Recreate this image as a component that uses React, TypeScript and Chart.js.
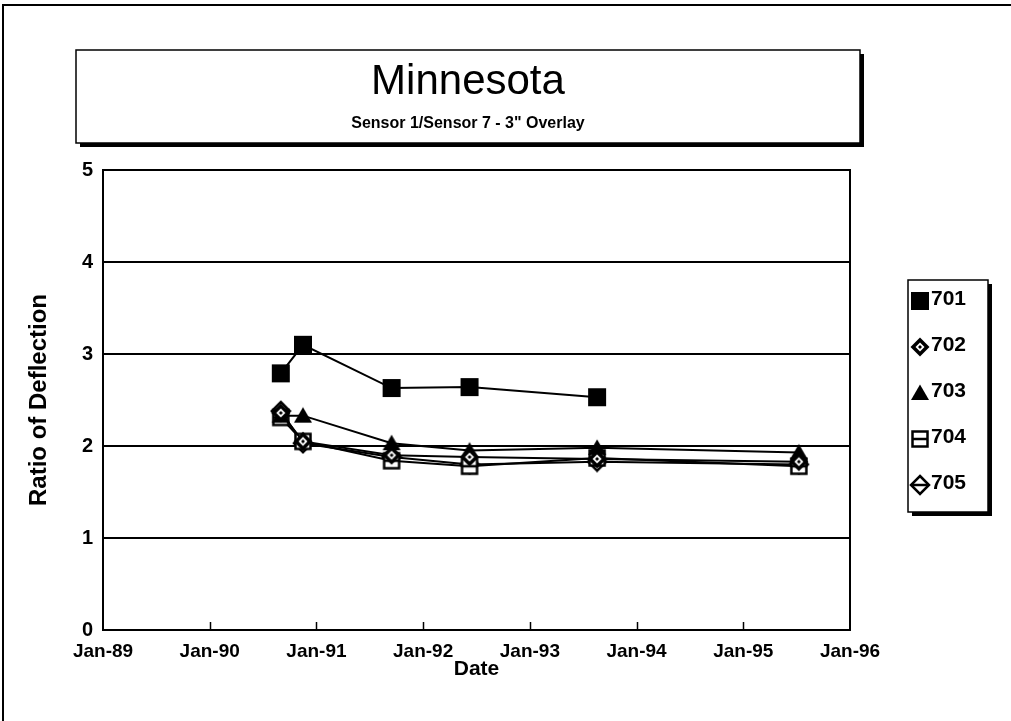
import React, { useEffect, useRef } from 'react';
import { Chart, registerables } from 'chart.js';

Chart.register(...registerables);

const TITLE = 'Minnesota';
const SUBTITLE = 'Sensor 1/Sensor 7 - 3" Overlay';
const X_LABEL = 'Date';
const Y_LABEL = 'Ratio of Deflection';

const X_TICK_YEARS = [1989, 1990, 1991, 1992, 1993, 1994, 1995, 1996];
const X_TICK_LABELS = ['Jan-89', 'Jan-90', 'Jan-91', 'Jan-92', 'Jan-93', 'Jan-94', 'Jan-95', 'Jan-96'];
const Y_MIN = 0;
const Y_MAX = 5;

const SERIES_NAMES = ['701', '702', '703', '704', '705'];
const DATES_701 = ['1990-09-01', '1990-11-16', '1991-09-15', '1992-06-08', '1993-08-19'];
const DATES_OTHERS = ['1990-09-01', '1990-11-16', '1991-09-15', '1992-06-08', '1993-08-19', '1995-07-10'];

const VALUES_701 = [2.79, 3.1, 2.63, 2.64, 2.53];
const VALUES_702 = [2.36, 2.05, 1.9, 1.88, 1.86, 1.83];
const VALUES_703 = [2.33, 2.33, 2.03, 1.95, 1.98, 1.93];
const VALUES_704 = [2.31, 2.05, 1.84, 1.78, 1.87, 1.78];
const VALUES_705 = [2.38, 2.03, 1.88, 1.8, 1.83, 1.8];

const MARKER_KINDS = ['square', 'diamondFilled', 'triangle', 'squareLine', 'diamondLine'];

const FONT = '"Liberation Sans", Arial, Helvetica, sans-serif';

function toYear(d: string): number {
  const dt = new Date(d + 'T00:00:00Z');
  const y = dt.getUTCFullYear();
  const start = Date.UTC(y, 0, 1);
  const end = Date.UTC(y + 1, 0, 1);
  return y + (dt.getTime() - start) / (end - start);
}

function diamondPath(g: CanvasRenderingContext2D, m: number, r: number) {
  g.beginPath();
  g.moveTo(m, m - r);
  g.lineTo(m + r, m);
  g.lineTo(m, m + r);
  g.lineTo(m - r, m);
  g.closePath();
}

function makeMarker(kind: string): HTMLCanvasElement {
  const s = 22;
  const c = document.createElement('canvas');
  c.width = s;
  c.height = s;
  const g = c.getContext('2d') as CanvasRenderingContext2D;
  const m = s / 2;
  g.fillStyle = '#000';
  g.strokeStyle = '#000';
  g.lineWidth = 2.5;
  if (kind === 'square') {
    g.fillRect(m - 9, m - 9, 18, 18);
  } else if (kind === 'diamondFilled') {
    diamondPath(g, m, 9.5);
    g.fill();
    g.fillStyle = '#fff';
    diamondPath(g, m, 4.5);
    g.fill();
    g.fillStyle = '#000';
    diamondPath(g, m, 2);
    g.fill();
  } else if (kind === 'triangle') {
    g.beginPath();
    g.moveTo(m, m - 8.5);
    g.lineTo(m + 9, m + 7);
    g.lineTo(m - 9, m + 7);
    g.closePath();
    g.fill();
  } else if (kind === 'squareLine') {
    g.fillStyle = '#fff';
    g.fillRect(m - 7.5, m - 7.5, 15, 15);
    g.strokeRect(m - 7.5, m - 7.5, 15, 15);
    g.beginPath();
    g.moveTo(m - 7.5, m);
    g.lineTo(m + 7.5, m);
    g.stroke();
  } else {
    g.fillStyle = '#fff';
    diamondPath(g, m, 9);
    g.fill();
    g.stroke();
    g.beginPath();
    g.moveTo(m - 9, m);
    g.lineTo(m + 9, m);
    g.stroke();
  }
  return c;
}

export default function App() {
  const canvasRef = useRef<HTMLCanvasElement | null>(null);

  useEffect(() => {
    const canvas = canvasRef.current;
    if (!canvas) return;
    const markers = MARKER_KINDS.map(makeMarker);

    const seriesValues = [VALUES_701, VALUES_702, VALUES_703, VALUES_704, VALUES_705];
    const seriesDates = [DATES_701, DATES_OTHERS, DATES_OTHERS, DATES_OTHERS, DATES_OTHERS];

    const datasets = SERIES_NAMES.map((name, i) => ({
      label: name,
      data: seriesValues[i].map((v, j) => ({ x: toYear(seriesDates[i][j]), y: v })),
      borderColor: '#000',
      backgroundColor: '#000',
      borderWidth: 2,
      pointStyle: markers[i],
      pointRadius: 9,
      tension: 0,
    }));

    const framePlugin = {
      id: 'frame',
      beforeDraw(chart: any) {
        const ctx = chart.ctx as CanvasRenderingContext2D;
        ctx.save();
        ctx.fillStyle = '#fff';
        ctx.fillRect(0, 0, chart.width, chart.height);
        ctx.strokeStyle = '#000';
        ctx.lineWidth = 2;
        ctx.beginPath();
        ctx.moveTo(3, chart.height);
        ctx.lineTo(3, 5);
        ctx.lineTo(chart.width, 5);
        ctx.stroke();
        // title box with shadow
        ctx.fillStyle = '#000';
        ctx.fillRect(80, 54, 784, 93);
        ctx.fillStyle = '#fff';
        ctx.fillRect(76, 50, 784, 93);
        ctx.lineWidth = 1.5;
        ctx.strokeRect(76, 50, 784, 93);
        ctx.fillStyle = '#000';
        ctx.textAlign = 'center';
        ctx.textBaseline = 'middle';
        ctx.font = `42px ${FONT}`;
        ctx.fillText(TITLE, 468, 82);
        ctx.font = `bold 16px ${FONT}`;
        ctx.fillText(SUBTITLE, 468, 124);
        ctx.restore();
      },
      beforeDatasetsDraw(chart: any) {
        const ctx = chart.ctx as CanvasRenderingContext2D;
        const a = chart.chartArea;
        const xs = chart.scales.x;
        ctx.save();
        ctx.strokeStyle = '#000';
        ctx.lineWidth = 2;
        ctx.strokeRect(a.left, a.top, a.right - a.left, a.bottom - a.top);
        ctx.lineWidth = 1.5;
        X_TICK_YEARS.slice(1, -1).forEach((yr) => {
          const px = Math.round(xs.getPixelForValue(yr)) + 0.5;
          ctx.beginPath();
          ctx.moveTo(px, a.bottom);
          ctx.lineTo(px, a.bottom - 8);
          ctx.stroke();
        });
        ctx.restore();
      },
      afterDraw(chart: any) {
        const ctx = chart.ctx as CanvasRenderingContext2D;
        ctx.save();
        const bx = 908, by = 280, bw = 80, bh = 232;
        ctx.fillStyle = '#000';
        ctx.fillRect(bx + 4, by + 4, bw, bh);
        ctx.fillStyle = '#fff';
        ctx.fillRect(bx, by, bw, bh);
        ctx.strokeStyle = '#000';
        ctx.lineWidth = 1.5;
        ctx.strokeRect(bx, by, bw, bh);
        ctx.fillStyle = '#000';
        ctx.font = `bold 21px ${FONT}`;
        ctx.textAlign = 'left';
        ctx.textBaseline = 'middle';
        chart.data.datasets.forEach((ds: any, i: number) => {
          const cy = by + 19 + i * 46;
          const img = markers[i];
          ctx.drawImage(img, 920 - img.width / 2, cy - img.height / 2 + 2);
          ctx.fillText(ds.label, 931, cy);
        });
        ctx.restore();
      },
    };

    const chart = new Chart(canvas, {
      type: 'line',
      data: { datasets },
      options: {
        animation: false,
        responsive: false,
        maintainAspectRatio: false,
        layout: { padding: { left: 0, top: 170, right: 161, bottom: 0 } },
        plugins: {
          legend: { display: false },
          title: { display: false },
          tooltip: { enabled: false },
        },
        scales: {
          x: {
            type: 'linear',
            min: X_TICK_YEARS[0],
            max: X_TICK_YEARS[X_TICK_YEARS.length - 1],
            afterFit: (s: any) => {
              s.height = 91;
            },
            afterBuildTicks: (s: any) => {
              s.ticks = X_TICK_YEARS.map((v) => ({ value: v }));
            },
            ticks: {
              autoSkip: false,
              maxRotation: 0,
              padding: 10,
              color: '#000',
              font: { family: FONT, size: 19, weight: 'bold' },
              callback: (v: any) => {
                const idx = X_TICK_YEARS.indexOf(Number(v));
                return idx >= 0 ? X_TICK_LABELS[idx] : '';
              },
            },
            grid: { display: false, drawTicks: false },
            border: { display: false },
            title: {
              display: true,
              text: X_LABEL,
              color: '#000',
              font: { family: FONT, size: 21, weight: 'bold' },
              padding: { top: 0, bottom: 39 },
            },
          },
          y: {
            type: 'linear',
            min: Y_MIN,
            max: Y_MAX,
            afterFit: (s: any) => {
              s.width = 103;
            },
            ticks: {
              stepSize: 1,
              padding: 10,
              color: '#000',
              font: { family: FONT, size: 20, weight: 'bold' },
            },
            grid: {
              drawTicks: false,
              color: (c: any) =>
                c.tick && (c.tick.value === Y_MIN || c.tick.value === Y_MAX) ? 'rgba(0,0,0,0)' : '#000',
              lineWidth: 2,
            },
            border: { display: false },
            title: {
              display: true,
              text: Y_LABEL,
              color: '#000',
              font: { family: FONT, size: 24, weight: 'bold' },
              padding: { top: 25, bottom: 0 },
            },
          },
        },
      },
      plugins: [framePlugin],
    } as any);

    return () => {
      chart.destroy();
    };
  }, []);

  return (
    <div style={{ position: 'absolute', left: 0, top: 0, width: 1011, height: 721, background: '#fff' }}>
      <canvas ref={canvasRef} width={1011} height={721} style={{ display: 'block' }} />
    </div>
  );
}
